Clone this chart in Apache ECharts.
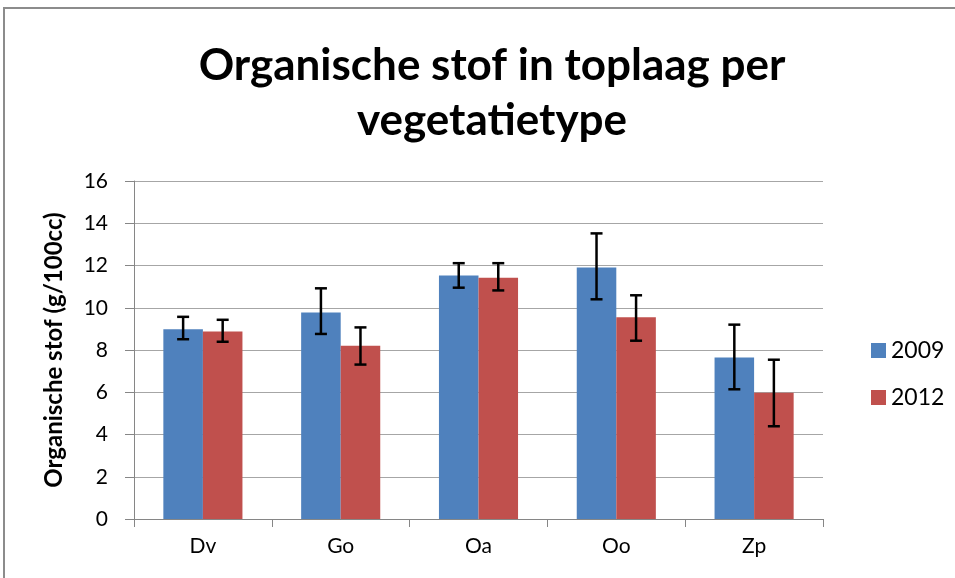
<!DOCTYPE HTML>
<html>
<head>
	<meta charset="utf-8" />
	<title>Organische stof</title>
	<script src="https://cdn.jsdelivr.net/npm/echarts@6/dist/echarts.min.js"></script>
	<script type="text/javascript">
		var categories = ["Dv", "Go", "Oa", "Oo", "Zp"];
		var years = ["2009", "2012"];
		var values2009 = [8.98, 9.78, 11.53, 11.91, 7.64];
		var values2012 = [8.87, 8.20, 11.42, 9.55, 5.98];
		// error bar ends (lower, upper)
		var low2009 = [8.51, 8.76, 10.95, 10.40, 6.14];
		var high2009 = [9.57, 10.92, 12.11, 13.52, 9.20];
		var low2012 = [8.39, 7.31, 10.82, 8.44, 4.39];
		var high2012 = [9.43, 9.07, 12.11, 10.59, 7.54];
		var yTicks = [0, 2, 4, 6, 8, 10, 12, 14, 16];
	</script>
</head>
<body style="margin:0;background:#fff;">
	<div id="main" style="width: 955px;height:578px;"></div>
	<script type="text/javascript">
		var BAR_FRAC = 0.287;

		function errorSeries(name, lows, highs, side) {
			var rows = [];
			for (var i = 0; i < categories.length; i++) {
				rows.push([i, lows[i], highs[i]]);
			}
			return {
				name: name + " err",
				type: "custom",
				z: 10,
				silent: true,
				data: rows,
				renderItem: function (params, api) {
					var band = api.size([1, 0])[0];
					var off = side * band * BAR_FRAC / 2;
					var lo = api.coord([api.value(0), api.value(1)]);
					var hi = api.coord([api.value(0), api.value(2)]);
					var x = lo[0] + off;
					var cap = 6;
					var st = { stroke: "#000", lineWidth: 2.5 };
					return {
						type: "group",
						children: [
							{ type: "line", shape: { x1: x, y1: hi[1], x2: x, y2: lo[1] }, style: st },
							{ type: "line", shape: { x1: x - cap, y1: hi[1], x2: x + cap, y2: hi[1] }, style: st },
							{ type: "line", shape: { x1: x - cap, y1: lo[1], x2: x + cap, y2: lo[1] }, style: st }
						]
					};
				}
			};
		}

		var myChart = echarts.init(document.getElementById("main"));

		var option = {
			animation: false,
			backgroundColor: "#fff",
			textStyle: { fontFamily: "Lato" },
			graphic: [{
				type: "rect",
				shape: { x: 4, y: 8, width: 1000, height: 620 },
				style: { fill: "none", stroke: "#8c8c8c", lineWidth: 2 },
				silent: true
			}],
			title: {
				text: "Organische stof in toplaag per\nvegetatietype",
				left: 487,
				top: 33,
				textAlign: "center",
				textStyle: {
					fontFamily: "Lato",
					fontWeight: "bold",
					fontSize: 44,
					lineHeight: 55,
					color: "#000"
				}
			},
			legend: {
				data: years,
				orient: "vertical",
				left: 866,
				top: 334,
				itemWidth: 15,
				itemHeight: 15,
				itemGap: 24,
				icon: "rect",
				textStyle: { fontFamily: "Lato", fontSize: 23, lineHeight: 22, color: "#000" }
			},
			grid: { left: 134, right: 132, top: 181, bottom: 59 },
			xAxis: {
				type: "category",
				data: categories,
				axisLine: { lineStyle: { color: "#868686", width: 1 } },
				axisTick: { show: true, length: 8, lineStyle: { color: "#868686" } },
				axisLabel: { fontFamily: "Lato", fontSize: 21, color: "#000", margin: 17 }
			},
			yAxis: {
				type: "value",
				min: yTicks[0],
				max: yTicks[yTicks.length - 1],
				interval: 2,
				name: "Organische stof (g/100cc)",
				nameLocation: "middle",
				nameGap: 68,
				nameTextStyle: { fontFamily: "Lato", fontWeight: "bold", fontSize: 24, color: "#000" },
				axisLine: { show: true, lineStyle: { color: "#868686" } },
				axisTick: { show: true, inside: false, length: 9, lineStyle: { color: "#868686" } },
				axisLabel: { fontFamily: "Lato", fontSize: 21, color: "#000", margin: 26 },
				splitLine: { lineStyle: { color: "#a6a6a6", width: 1.2 } }
			},
			series: [
				{
					name: years[0],
					type: "bar",
					barWidth: (BAR_FRAC * 100) + "%",
					barGap: "0%",
					itemStyle: { color: "#4F81BD" },
					data: values2009
				},
				{
					name: years[1],
					type: "bar",
					barWidth: (BAR_FRAC * 100) + "%",
					barGap: "0%",
					itemStyle: { color: "#C0504D" },
					data: values2012
				},
				errorSeries(years[0], low2009, high2009, -1),
				errorSeries(years[1], low2012, high2012, 1)
			]
		};

		myChart.setOption(option);
	</script>
</body>
</html>
